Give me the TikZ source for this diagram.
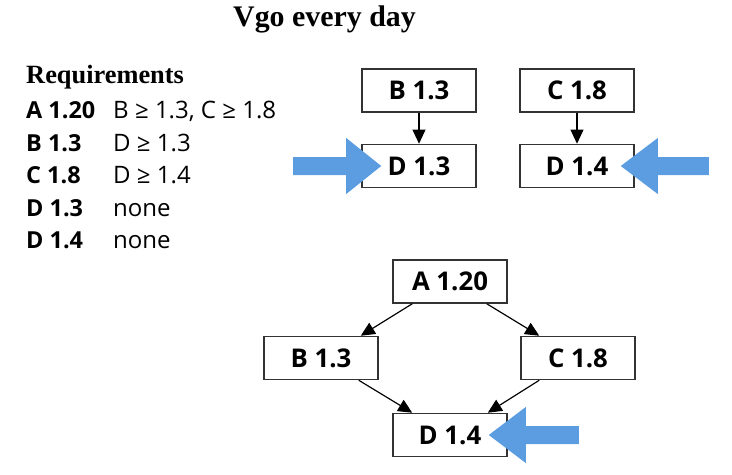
\documentclass[tikz,border=0pt]{standalone}
\usepackage{fontspec}
\setmainfont{Open Sans}
\newfontfamily\titlefont{Liberation Serif}
\usepackage{xcolor}
\usetikzlibrary{arrows.meta, positioning, calc}
\definecolor{pointercolor}{HTML}{5C9DE2}
\definecolor{boxline}{HTML}{333333}
\tikzset{
    pkg/.style={draw=boxline, line width=1.3pt, minimum width=3.42cm, minimum height=1.29cm, inner sep=0pt, font=\fontsize{22}{24}\selectfont\bfseries},
    myarrow/.style={-{Triangle[length=12pt, width=11pt]}, line width=1pt},
    pointer/.style={fill=pointercolor},
    reqname/.style={anchor=base west, inner sep=0pt, font=\fontsize{20}{22}\selectfont\bfseries},
    reqtext/.style={anchor=base west, inner sep=0pt, font=\fontsize{20.5}{23}\selectfont},
}

\begin{document}
\begin{tikzpicture}[x=0.03cm, y=-0.03cm]
\useasboundingbox (0,0) rectangle (732,474);

% ============================================================
% Title and requirement list
% ============================================================
\node[anchor=base west, inner sep=0pt, font=\titlefont\fontsize{25.5}{28}\selectfont\bfseries] (title) at (233,26) {Vgo every day};

\node[anchor=base west, inner sep=0pt, font=\titlefont\fontsize{22.5}{25}\selectfont\bfseries] (reqhead) at (26,83) {Requirements};

\node[reqname] (ra) at (26,118) {A 1.20};
\node[reqtext] (ta) at (113,118) {B ≥ 1.3, C ≥ 1.8};
\node[reqname] (rb) at (26,151) {B 1.3};
\node[reqtext] (tb) at (113,151) {D ≥ 1.3};
\node[reqname] (rc) at (26,183) {C 1.8};
\node[reqtext] (tc) at (113,183) {D ≥ 1.4};
\node[reqname] (rd1) at (26,216) {D 1.3};
\node[reqtext] (td1) at (113,216) {none};
\node[reqname] (rd2) at (26,248) {D 1.4};
\node[reqtext] (td2) at (113,248) {none};

% ============================================================
% Two separate chains
% ============================================================
\node[pkg] (b1) at (419,90.5) {B 1.3};
\node[pkg] (c1) at (577,90.5) {C 1.8};
\node[pkg] (d13) at (419,166) {D 1.3};
\node[pkg] (d14) at (577,166) {D 1.4};

\draw[myarrow] (b1) -- (d13);
\draw[myarrow] (c1) -- (d14);

% pointers
\fill[pointer] ($(d13.west)+(20,0)$) -- ++(-35,-28) -- ++(0,19) -- ++(-53,0) -- ++(0,18) -- ++(53,0) -- ++(0,19) -- cycle;
\fill[pointer] ($(d14.east)+(-14,0)$) -- ++(37,-28) -- ++(0,19) -- ++(51,0) -- ++(0,18) -- ++(-51,0) -- ++(0,19) -- cycle;

% ============================================================
% Combined graph
% ============================================================
\node[pkg] (a) at (450,281.5) {A 1.20};
\node[pkg] (b2) at (321,358) {B 1.3};
\node[pkg] (c2) at (578,358) {C 1.8};
\node[pkg] (d2) at (450,435) {D 1.4};

\draw[myarrow] ($(a.south west)+(20,0)$) -- ($(b2.north east)+(-18,0)$);
\draw[myarrow] ($(a.south east)+(-21,0)$) -- ($(c2.north west)+(19,0)$);
\draw[myarrow] ($(b2.south east)+(-20,0)$) -- ($(d2.north west)+(20,0)$);
\draw[myarrow] ($(c2.south west)+(19,0)$) -- ($(d2.north east)+(-20,0)$);

\fill[pointer] ($(d2.east)+(-19,0)$) -- ++(37,-28) -- ++(0,19) -- ++(53,0) -- ++(0,18) -- ++(-53,0) -- ++(0,19) -- cycle;

\end{tikzpicture}
\end{document}
